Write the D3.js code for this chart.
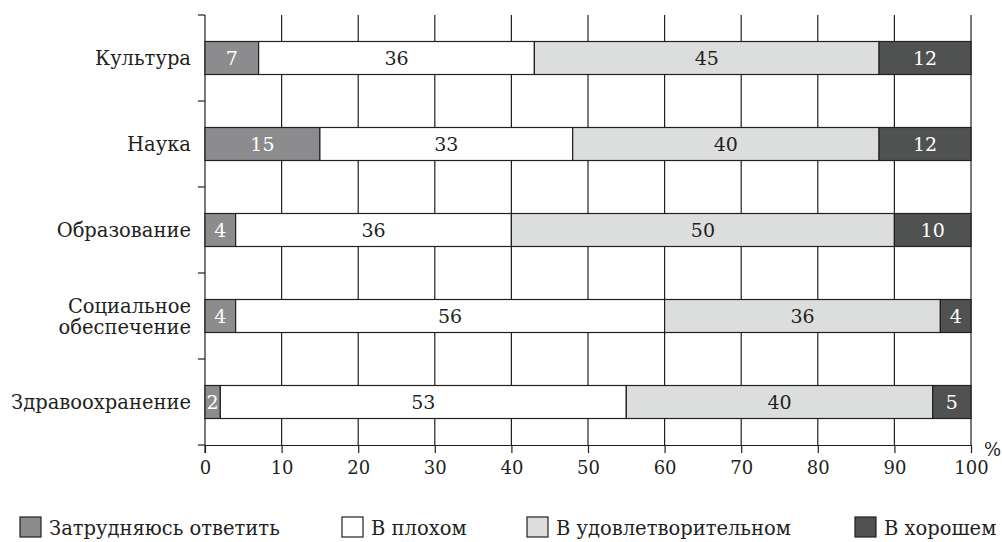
<!DOCTYPE html>
<html>
<head>
<meta charset="utf-8">
<script src="https://d3js.org/d3.v7.min.js"></script>
<style>
  body { margin: 0; background: #fff; }
</style>
</head>
<body>
<div id="chart"></div>
<script>
// Data
// ==============================
var categories = ["Культура", "Наука", "Образование", "Социальное\nобеспечение", "Здравоохранение"];
var seriesNames = ["Затрудняюсь ответить", "В плохом", "В удовлетворительном", "В хорошем"];
var hard = [7, 15, 4, 4, 2];
var bad = [36, 33, 36, 56, 53];
var ok = [45, 40, 50, 36, 40];
var good = [12, 12, 10, 4, 5];
var xTicks = [0, 10, 20, 30, 40, 50, 60, 70, 80, 90, 100];

var colors = ["#8c8c8e", "#ffffff", "#dcdddd", "#505151"];
var labelColors = ["#ffffff", "#231f20", "#231f20", "#ffffff"];
var FONT = "'DejaVu Serif'";

var svgWidth = 1002, svgHeight = 542;
var margin = { top: 15, left: 205, right: 31, bottom: 97 };
var width = svgWidth - margin.left - margin.right;
var height = svgHeight - margin.top - margin.bottom;

var svg = d3.select("#chart").append("svg")
  .attr("width", svgWidth)
  .attr("height", svgHeight)
  .attr("font-family", FONT)
  .style("font-family", FONT);

var chartGroup = svg.append("g")
  .attr("transform", `translate(${margin.left}, ${margin.top})`);

// Build rows
var rows = categories.map(function(c, i) {
  return { cat: c, values: [hard[i], bad[i], ok[i], good[i]] };
});

var xScale = d3.scaleLinear().domain([0, 100]).range([0, width]);
var yScale = d3.scaleBand().domain(categories).range([0, height]);
var barH = 33;

// Grid lines
chartGroup.selectAll(".grid")
  .data(xTicks.slice(1))
  .enter().append("line")
  .attr("x1", d => xScale(d)).attr("x2", d => xScale(d))
  .attr("y1", 0).attr("y2", height)
  .attr("stroke", "#231f20").attr("stroke-width", 1.2);

// X axis
var xAxis = d3.axisBottom(xScale).tickValues(xTicks).tickSize(8).tickSizeOuter(0);
var xg = chartGroup.append("g")
  .attr("transform", `translate(0, ${height})`)
  .call(xAxis)
  .attr("font-family", FONT)
  .attr("font-size", 18);
xg.selectAll("path, line").attr("stroke", "#231f20").attr("stroke-width", 1.2);
xg.selectAll("text").attr("y", 13).attr("dy", "0.9em").attr("fill", "#231f20");

// Y axis (ticks at band edges)
var yEdges = categories.map(c => yScale(c)).concat([height]);
chartGroup.append("line")
  .attr("x1", 0).attr("x2", 0).attr("y1", 0).attr("y2", height + 8)
  .attr("stroke", "#231f20").attr("stroke-width", 1.2);
chartGroup.selectAll(".ytick")
  .data(yEdges)
  .enter().append("line")
  .attr("x1", -7).attr("x2", 0)
  .attr("y1", d => d).attr("y2", d => d)
  .attr("stroke", "#231f20").attr("stroke-width", 1.2);

// Category labels
rows.forEach(function(r) {
  var lines = r.cat.split("\n");
  var cy = yScale(r.cat) + yScale.bandwidth() / 2;
  var t = chartGroup.append("text")
    .attr("text-anchor", "end")
    .attr("font-size", 19.5)
    .attr("fill", "#231f20");
  lines.forEach(function(l, j) {
    t.append("tspan")
      .attr("x", -14)
      .attr("y", cy + 7 + (j - (lines.length - 1) / 2) * 21)
      .text(l);
  });
});

// Stacked bars
rows.forEach(function(r) {
  var x0 = 0;
  var y0 = yScale(r.cat) + yScale.bandwidth() / 2 - barH / 2;
  r.values.forEach(function(v, k) {
    chartGroup.append("rect")
      .attr("x", xScale(x0))
      .attr("y", y0)
      .attr("width", xScale(x0 + v) - xScale(x0))
      .attr("height", barH)
      .attr("fill", colors[k])
      .attr("stroke", "#231f20")
      .attr("stroke-width", 1.2);
    chartGroup.append("text")
      .attr("x", xScale(x0 + v / 2))
      .attr("y", y0 + barH / 2 + 7)
      .attr("text-anchor", "middle")
      .attr("font-size", 19)
      .attr("fill", labelColors[k])
      .text(v);
    x0 += v;
  });
});

// Percent sign
chartGroup.append("text")
  .attr("x", width + 13)
  .attr("y", height + 11)
  .attr("font-size", 18)
  .attr("fill", "#231f20")
  .text("%");

// Legend
var legendX = [20, 342, 527, 855];
var legend = svg.append("g");
seriesNames.forEach(function(s, k) {
  legend.append("rect")
    .attr("x", legendX[k]).attr("y", 517)
    .attr("width", 21).attr("height", 20)
    .attr("fill", colors[k])
    .attr("stroke", "#231f20").attr("stroke-width", 1.2);
  legend.append("text")
    .attr("x", legendX[k] + 29).attr("y", 535)
    .attr("font-size", 19.5)
    .attr("fill", "#231f20")
    .text(s);
});
</script>
</body>
</html>
